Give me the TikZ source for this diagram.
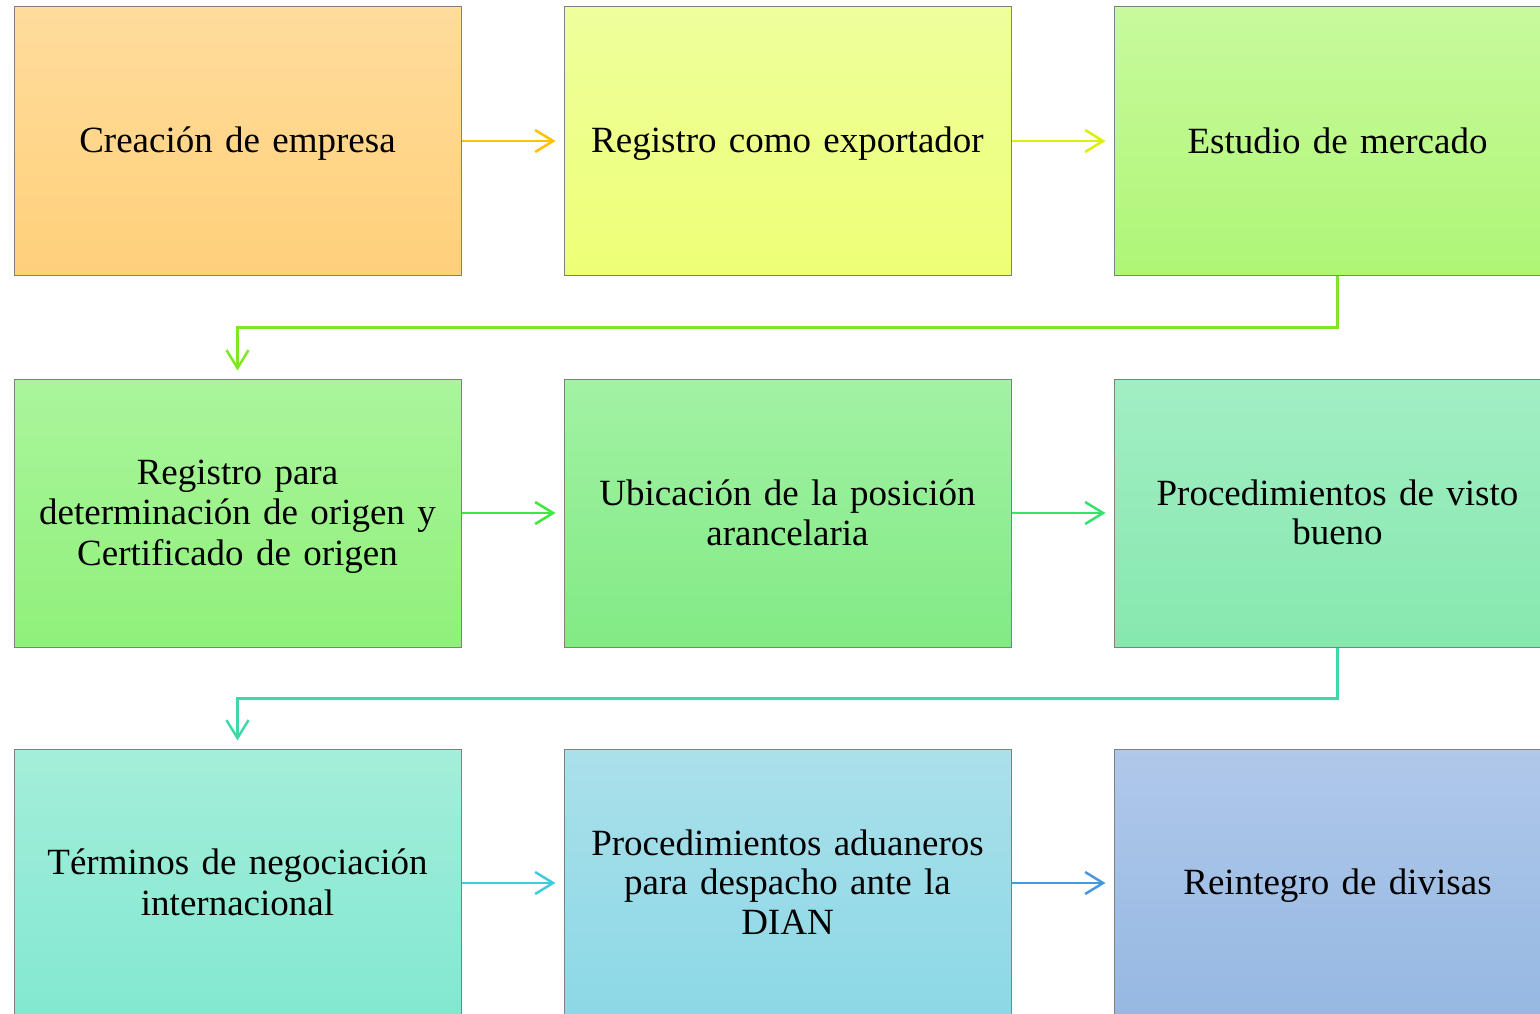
\documentclass[tikz,border=0pt]{standalone}
\usepackage{fontspec}
\setmainfont{Liberation Serif}
\usetikzlibrary{arrows.meta}
\definecolor{cA1}{HTML}{FFDC9C}\definecolor{cA2}{HTML}{FFD07A}
\definecolor{cB1}{HTML}{EEFF9C}\definecolor{cB2}{HTML}{EEFF76}
\definecolor{cC1}{HTML}{C8FA9C}\definecolor{cC2}{HTML}{AEF676}
\definecolor{cD1}{HTML}{AAF59C}\definecolor{cD2}{HTML}{90F07A}
\definecolor{cE1}{HTML}{A2F2A4}\definecolor{cE2}{HTML}{82EA84}
\definecolor{cF1}{HTML}{A2EEC4}\definecolor{cF2}{HTML}{86E8AE}
\definecolor{cG1}{HTML}{A4EEDA}\definecolor{cG2}{HTML}{82E8D0}
\definecolor{cH1}{HTML}{AAE0EA}\definecolor{cH2}{HTML}{8CD8E6}
\definecolor{cI1}{HTML}{B0C8EA}\definecolor{cI2}{HTML}{96B8E2}
\definecolor{aA}{HTML}{FFC000}
\definecolor{aB}{HTML}{DDF000}
\definecolor{aC}{HTML}{7EE626}
\definecolor{aD}{HTML}{3EE83E}
\definecolor{aE}{HTML}{38E070}
\definecolor{aF}{HTML}{40D8A8}
\definecolor{aG}{HTML}{40CCDC}
\definecolor{aH}{HTML}{4A98DC}
\newcommand\ls{\rule[-7.05pt]{0pt}{38.5pt}}
\tikzset{
  box/.style={rectangle, draw=black!50, line width=1pt, minimum width=447pt, minimum height=268pt,
    inner sep=0pt, align=center, text width=420pt,
    font=\fontsize{37}{38.5}\selectfont},
  conn/.style={line width=2.5pt, shorten >=8pt, -{Straight Barb[length=18pt,width=22pt,line width=2.5pt]}}
}
\begin{document}
\begin{tikzpicture}[x=1pt,y=-1pt]
\useasboundingbox (0,0) rectangle (1540,1014);
\clip (0,0) rectangle (1540,1014);
\node[box, top color=cA1, bottom color=cA2] (n1) at (237.5,141) {\ls Creación de empresa};
\node[box, top color=cB1, bottom color=cB2] (n2) at (787.5,141) {\ls Registro como exportador};
\node[box, top color=cC1, bottom color=cC2] (n3) at (1337.5,141) {\ls Estudio de mercado};
\node[box, top color=cD1, bottom color=cD2] (n4) at (237.5,513) {\ls Registro para\\\ls determinación de origen y\\\ls Certificado de origen};
\node[box, top color=cE1, bottom color=cE2] (n5) at (787.5,513) {\ls Ubicación de la posición\\\ls arancelaria};
\node[box, top color=cF1, bottom color=cF2] (n6) at (1337.5,513) {\ls Procedimientos de visto\\\ls bueno};
\node[box, top color=cG1, bottom color=cG2] (n7) at (237.5,883) {\ls Términos de negociación\\\ls internacional};
\node[box, top color=cH1, bottom color=cH2] (n8) at (787.5,883) {\ls Procedimientos aduaneros\\\ls para despacho ante la\\\ls DIAN};
\node[box, top color=cI1, bottom color=cI2] (n9) at (1337.5,883) {\ls Reintegro de divisas};
\draw[conn, aA] (n1.east) -- (n2.west);
\draw[conn, aB] (n2.east) -- (n3.west);
\draw[conn, aC] (n3.south) -- ++(0,52) -| (n4.north);
\draw[conn, aD] (n4.east) -- (n5.west);
\draw[conn, aE] (n5.east) -- (n6.west);
\draw[conn, aF] (n6.south) -- ++(0,51) -| (n7.north);
\draw[conn, aG] (n7.east) -- (n8.west);
\draw[conn, aH] (n8.east) -- (n9.west);
\end{tikzpicture}
\end{document}
